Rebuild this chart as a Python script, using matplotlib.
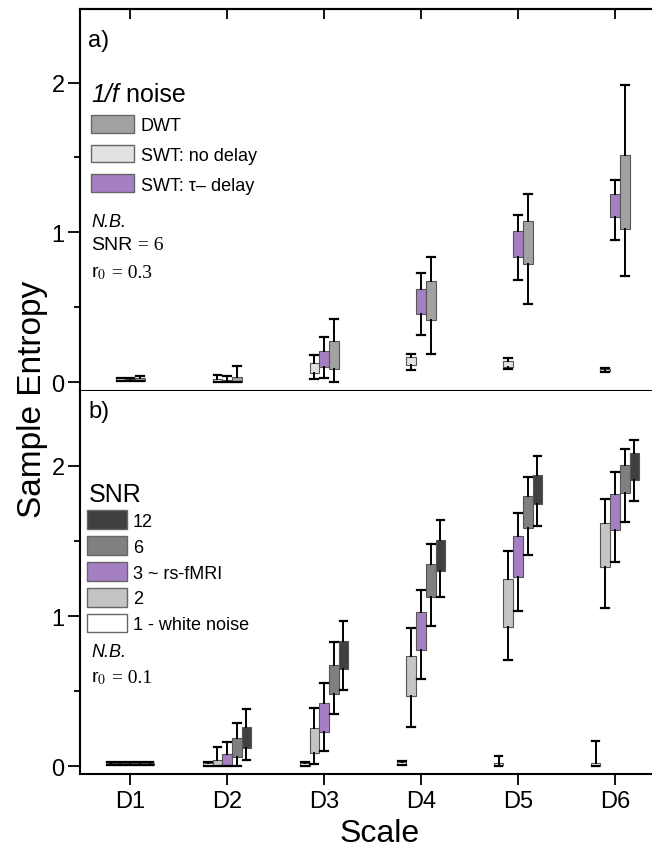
import numpy as np
import matplotlib.pyplot as plt
from matplotlib.patches import Patch

plt.rcParams['font.family'] = ['Liberation Sans', 'DejaVu Sans']
plt.rcParams['mathtext.fontset'] = 'stix'

scales = ["D1", "D2", "D3", "D4", "D5", "D6"]

# each row: [whisker low, q1, q3, whisker high] for one scale
# panel a) 1/f noise
swt_nodelay = [[0.005, 0.01, 0.025, 0.03], [0.0, 0.0, 0.02, 0.045], [0.02, 0.06, 0.13, 0.18],
               [0.08, 0.115, 0.165, 0.19], [0.087, 0.10, 0.14, 0.158], [0.07, 0.075, 0.09, 0.095]]
swt_delay = [[0.005, 0.01, 0.02, 0.03], [0.0, 0.0, 0.015, 0.04], [0.03, 0.098, 0.205, 0.30],
             [0.315, 0.453, 0.62, 0.73], [0.682, 0.838, 1.009, 1.113], [0.947, 1.104, 1.253, 1.347]]
dwt = [[0.005, 0.01, 0.03, 0.04], [0.0, 0.0, 0.035, 0.105], [0.0, 0.087, 0.272, 0.423],
       [0.187, 0.413, 0.675, 0.838], [0.52, 0.791, 1.076, 1.253], [0.709, 1.02, 1.515, 1.987]]

# panel b) SNR levels
snr1 = [[0.005, 0.01, 0.02, 0.025], [0.0, 0.0, 0.02, 0.025], [0.0, 0.0, 0.02, 0.025],
        [0.005, 0.01, 0.025, 0.035], [0.0, 0.005, 0.02, 0.065], [0.0, 0.0, 0.02, 0.165]]
snr2 = [[0.005, 0.01, 0.02, 0.025], [0.0, 0.0, 0.04, 0.13], [0.013, 0.085, 0.251, 0.39],
        [0.258, 0.465, 0.735, 0.92], [0.707, 0.929, 1.247, 1.431], [1.053, 1.324, 1.62, 1.78]]
snr3 = [[0.005, 0.01, 0.02, 0.025], [0.0, 0.0, 0.08, 0.158], [0.102, 0.229, 0.42, 0.553],
        [0.58, 0.775, 1.029, 1.173], [1.031, 1.258, 1.531, 1.684], [1.362, 1.573, 1.813, 1.962]]
snr6 = [[0.005, 0.01, 0.02, 0.025], [0.002, 0.062, 0.185, 0.287], [0.347, 0.48, 0.673, 0.824],
        [0.935, 1.124, 1.347, 1.48], [1.409, 1.587, 1.802, 1.924], [1.629, 1.82, 2.007, 2.113]]
snr12 = [[0.005, 0.01, 0.02, 0.025], [0.042, 0.12, 0.262, 0.38], [0.507, 0.647, 0.836, 0.969],
         [1.124, 1.302, 1.509, 1.642], [1.598, 1.747, 1.94, 2.069], [1.765, 1.909, 2.085, 2.175]]

labels_a = ["DWT", "SWT: no delay", "SWT: \u03c4\u2013 delay"]
labels_b = ["12", "6", "3 ~ rs-fMRI", "2", "1 - white noise"]

c_light = "#e2e2e2"
c_purple = "#a57fc3"
c_dwt = "#a2a2a2"
c_b2 = "#c4c4c4"
c_b6 = "#808080"
c_b12 = "#404040"


def draw_boxes(ax, data, offset, color):
    stats = []
    for lo, q1, q3, hi in data:
        stats.append(dict(med=q1, q1=q1, q3=q3, whislo=lo, whishi=hi, fliers=[]))
    pos = np.arange(1, 7) + offset
    ax.bxp(stats, positions=pos, widths=0.1, capwidths=0.08, patch_artist=True,
           showfliers=False, manage_ticks=False,
           boxprops=dict(facecolor=color, edgecolor="#555555", linewidth=0.8),
           whiskerprops=dict(color="black", linewidth=1.4),
           capprops=dict(color="black", linewidth=1.6),
           medianprops=dict(linewidth=0))


fig = plt.figure(figsize=(6.52, 8.54), dpi=100)
ax1 = fig.add_axes([0.1227, 0.541, 0.88, 0.447])
ax2 = fig.add_axes([0.1227, 0.0925, 0.88, 0.4485])

draw_boxes(ax1, swt_nodelay, -0.1, c_light)
draw_boxes(ax1, swt_delay, 0.0, c_purple)
draw_boxes(ax1, dwt, 0.1, c_dwt)

draw_boxes(ax2, snr1, -0.2, "white")
draw_boxes(ax2, snr2, -0.1, c_b2)
draw_boxes(ax2, snr3, 0.0, c_purple)
draw_boxes(ax2, snr6, 0.1, c_b6)
draw_boxes(ax2, snr12, 0.2, c_b12)

for ax in (ax1, ax2):
    ax.set_xlim(0.483, 6.40)
    ax.set_xticks(np.arange(1, 7))
    ax.set_yticks([0, 1, 2])
    ax.set_yticks([0.5, 1.5], minor=True)
    ax.spines["right"].set_visible(False)
    for s in ("left", "bottom", "top"):
        ax.spines[s].set_linewidth(1.5)
    ax.tick_params(axis="y", which="major", direction="out", length=9, width=1.3,
                   labelsize=17, pad=2)
    ax.tick_params(axis="y", which="minor", direction="out", length=4, width=1.3)
    ax.tick_params(axis="x", which="major", direction="out", length=8, width=1.3, labelsize=17)

ax1.set_ylim(-0.06, 2.49)
ax2.set_ylim(-0.053, 2.5)
ax1.set_xticklabels([])
top = ax1.secondary_xaxis("top")
top.set_xticks(np.arange(1, 7))
top.tick_params(direction="in", length=7, width=1.3, labeltop=False)
top.spines["top"].set_linewidth(1.5)
ax2.spines["top"].set_visible(False)
ax2.set_xticklabels(scales)

ax1.text(0.014, 0.92, "a)", transform=ax1.transAxes, fontsize=17, va="center")
ax2.text(0.014, 0.948, "b)", transform=ax2.transAxes, fontsize=17, va="center")

# legend a
handles_a = [Patch(facecolor=c, edgecolor="#666666", linewidth=1) for c in (c_dwt, c_light, c_purple)]
ax1.legend(handles_a, labels_a, loc="upper left", bbox_to_anchor=(0.019, 0.724), frameon=False,
           fontsize=13, handlelength=2.4, handleheight=1.15, labelspacing=0.6,
           handletextpad=0.35, borderpad=0, borderaxespad=0)
t = ax1.text(0.02, 0.76, "1/f", transform=ax1.transAxes, fontsize=18, style="italic", va="baseline")
ax1.annotate(" noise", xy=(1, 0), xycoords=t, fontsize=18, va="bottom")
ax1.text(0.02, 0.432, "N.B.", transform=ax1.transAxes, fontsize=13, style="italic", va="baseline")
t = ax1.text(0.02, 0.372, "SNR", transform=ax1.transAxes, fontsize=14, va="baseline")
ax1.annotate(" = 6", xy=(1, 0), xycoords=t, fontsize=14, va="bottom", family="Liberation Serif")
t = ax1.text(0.02, 0.30, "r$_{0}$", transform=ax1.transAxes, fontsize=14, va="baseline")
ax1.annotate(" = 0.3", xy=(1, 0), xycoords=t, fontsize=14, va="bottom", family="Liberation Serif")

# legend b
handles_b = [Patch(facecolor=c, edgecolor="#666666", linewidth=1) for c in (c_b12, c_b6, c_purple, c_b2, "white")]
ax2.legend(handles_b, labels_b, loc="upper left", bbox_to_anchor=(0.012, 0.688), frameon=False,
           fontsize=13, handlelength=2.2, handleheight=1.2, labelspacing=0.36,
           handletextpad=0.35, borderpad=0, borderaxespad=0)
ax2.text(0.015, 0.713, "SNR", transform=ax2.transAxes, fontsize=18, va="baseline")
ax2.text(0.02, 0.308, "N.B.", transform=ax2.transAxes, fontsize=13, style="italic", va="baseline")
t = ax2.text(0.02, 0.243, "r$_{0}$", transform=ax2.transAxes, fontsize=14, va="baseline")
ax2.annotate(" = 0.1", xy=(1, 0), xycoords=t, fontsize=14, va="bottom", family="Liberation Serif")

fig.text(0.05, 0.532, "Sample Entropy", rotation=90, fontsize=24, va="center", ha="center")
fig.text(0.582, 0.024, "Scale", fontsize=23, ha="center", va="center")

fig.savefig("out.png", dpi=100)
